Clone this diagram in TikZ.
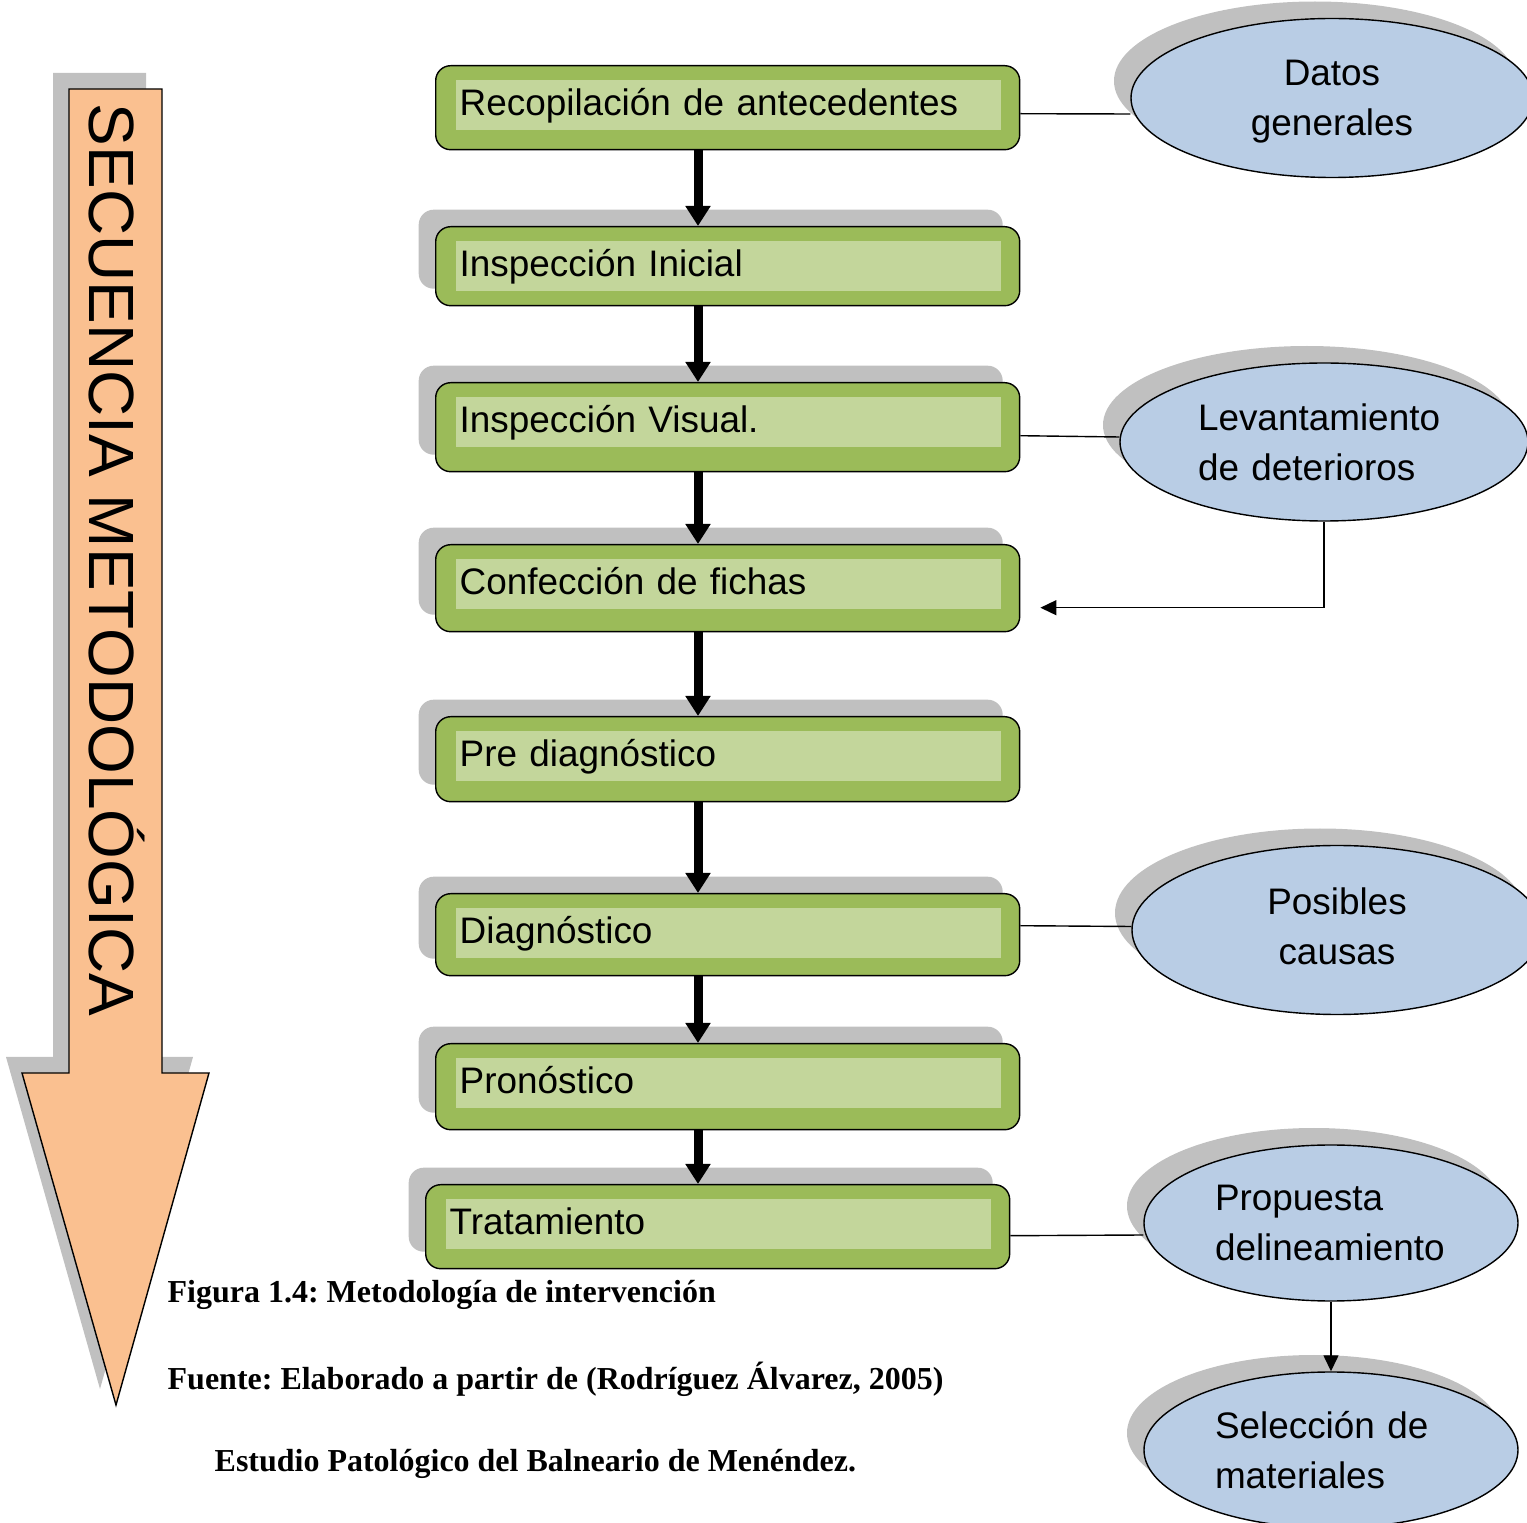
\documentclass[tikz,border=0pt]{standalone}
\usepackage{fontspec}
\setmainfont{Liberation Sans}
\newfontfamily\piefont{Liberation Serif}
\usetikzlibrary{arrows.meta,shapes.geometric,shadows}
\definecolor{verdeosc}{HTML}{9BBB59}
\definecolor{verdecla}{HTML}{C3D69B}
\definecolor{azulelip}{HTML}{B9CDE5}
\definecolor{melocoton}{HTML}{FAC090}
\definecolor{gris}{HTML}{C0C0C0}
\frenchspacing
\tikzset{
	sombra/.style={drop shadow={shadow xshift=-1.7mm, shadow yshift=1.7mm, fill=gris, opacity=1}},
	paso/.style={draw=black, fill=verdeosc, rounded corners=1.5mm, anchor=north west,
		inner xsep=2.4mm, inner ysep=0pt, text width=53.6mm, align=left,
		text height=5mm, text depth=#1, font=\fontsize{10.5}{14}\selectfont,
		path picture={\fill[verdecla, sharp corners] ([xshift=2mm,yshift=-1.4mm]path picture bounding box.north west) rectangle ([xshift=-1.9mm,yshift=-6.4mm]path picture bounding box.north east);}},
	nube/.style={ellipse, draw=black, fill=azulelip, inner sep=0pt, sombra, font=\fontsize{10.5}{14.2}\selectfont},
	flecha/.style={line width=0.9mm, -{Triangle[length=2mm,width=2.4mm]}},
	enlace/.style={thin},
	punta/.style={thin, -{Triangle[length=1.6mm,width=1.5mm]}},
	pie/.style={anchor=base west, inner sep=0pt, font=\piefont\bfseries\fontsize{9.1}{11}\selectfont},
}

\begin{document}
\begin{tikzpicture}[x=0.1mm, y=-0.1mm]
			%%%%% START %%%%%
			\useasboundingbox (0,0) rectangle (1527,1523);
			\clip (0,0) rectangle (1527,1523);
			
			% flecha grande de la izquierda
			\draw[fill=melocoton, drop shadow={shadow xshift=-1.6mm, shadow yshift=1.6mm, fill=gris, opacity=1}] (69,89) -- (162,89) -- (162,1073) -- (209,1073) -- (116,1405) -- (22,1073) -- (69,1073) -- cycle;
			\node[rotate=-90, anchor=base, inner sep=0pt, font=\fontsize{18.2}{22}\selectfont] (secuencia) at (90,560) {SECUENCIA METODOLÓGICA};
			
			% pasos
			\node[paso=3.4mm] (recop) at (435,65) {Recopilación de antecedentes};
			\node[paso=2.9mm, sombra] (inicial) at (435,226) {Inspección Inicial};
			\node[paso=3.9mm, sombra] (visual) at (435,382) {Inspección Visual.};
			\node[paso=3.7mm, sombra] (fichas) at (435,544) {Confección de fichas};
			\node[paso=3.5mm, sombra] (prediag) at (435,716) {Pre diagnóstico};
			\node[paso=3.2mm, sombra] (diag) at (435,893) {Diagnóstico};
			\node[paso=3.6mm, sombra] (pronos) at (435,1043) {Pronóstico};
			\node[paso=3.4mm, sombra] (trata) at (425,1184) {Tratamiento};
			
			\coordinate (eje) at (698,0);
			\draw[flecha] (recop.south -| eje) -- (inicial.north -| eje);
			\draw[flecha] (inicial.south -| eje) -- (visual.north -| eje);
			\draw[flecha] (visual.south -| eje) -- (fichas.north -| eje);
			\draw[flecha] (fichas.south -| eje) -- (prediag.north -| eje);
			\draw[flecha] (prediag.south -| eje) -- (diag.north -| eje);
			\draw[flecha] (diag.south -| eje) -- (pronos.north -| eje);
			\draw[flecha] (pronos.south -| eje) -- (trata.north -| eje);
			
			% elipses de la derecha
			\node[nube, minimum width=40.2mm, minimum height=15.9mm, align=center, text depth=0pt] (datos) at (1332,98) {Datos\\generales};
			\node[nube, minimum width=40.8mm, minimum height=15.8mm, align=left, text width=25.2mm] (levant) at (1324,442) {Levantamiento\\de deterioros};
			\node[nube, minimum width=41mm, minimum height=16.9mm, align=center, text depth=0.8mm] (causas) at (1337,930) {Posibles\\causas};
			\node[nube, minimum width=37.4mm, minimum height=15.6mm, align=left, text width=23.2mm] (propu) at (1331,1223) {Propuesta\\delineamiento};
			\node[nube, minimum width=37.4mm, minimum height=15.6mm, align=left, text width=23.2mm] (selec) at (1331,1450) {Selección de\\materiales};
			
			\draw[enlace] ([yshift=-0.6mm]recop.east) -- ([yshift=-1.6mm]datos.west);
			\draw[enlace] ([yshift=-0.85mm]visual.east) -- ([yshift=0.5mm]levant.west);
			\draw[punta] (levant.south) |- ([xshift=2mm,yshift=-1.95mm]fichas.east);
			\draw[enlace] ([yshift=0.9mm]diag.east) -- ([yshift=0.35mm]causas.west);
			\draw[enlace] ([yshift=-0.9mm]trata.east) -- ([yshift=-1.2mm]propu.west);
			\draw[punta] (propu.south) -- (selec.north);
			
			% pie de figura
			\node[pie] (figura) at (167,1303) {Figura 1.4: Metodología de intervención};
			\node[pie] (fuente) at (167,1390) {Fuente: Elaborado a partir de (Rodríguez Álvarez, 2005)};
			\node[pie] (estudio) at (214,1472) {Estudio Patológico del Balneario de Menéndez.};
			%%%%% END %%%%%
\end{tikzpicture}
\end{document}
